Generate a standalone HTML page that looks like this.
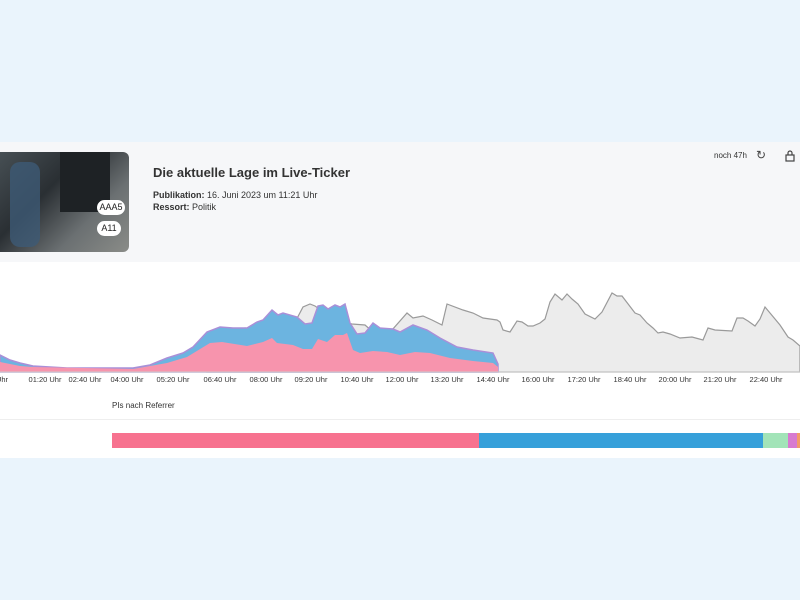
<!DOCTYPE html>
<html><head><meta charset="utf-8"><style>
body{margin:0;width:800px;height:600px;background:#eaf4fc;font-family:"Liberation Sans",sans-serif;position:relative;overflow:hidden}
.hdr{position:absolute;left:0;top:142px;width:800px;height:120px;background:#f6f7f9}
.main{position:absolute;left:0;top:262px;width:800px;height:196px;background:#fff}
.img{position:absolute;left:-10px;top:152px;width:139px;height:100px;border-radius:6px;background:linear-gradient(135deg,#4a5358 0%,#2a2f33 40%,#6b7072 70%,#8a8c88 100%)}
.badge{position:absolute;background:#fff;border-radius:8px;font-size:9px;color:#222;text-align:center;line-height:15px;height:15px}
.t{position:absolute;left:153px;top:165px;font-size:13px;font-weight:bold;color:#333}
.s{position:absolute;left:153px;font-size:9px;color:#333}
</style></head><body>
<div class="hdr"></div>
<div class="img">
<div style="position:absolute;left:20px;top:10px;width:30px;height:85px;background:#3d5a75;border-radius:10px;opacity:.8"></div>
<div style="position:absolute;left:70px;top:0;width:50px;height:60px;background:#1e2225"></div>
</div>
<div class="badge" style="left:97px;top:200px;width:28px">AAA5</div>
<div class="badge" style="left:97px;top:221px;width:24px">A11</div>
<div class="t">Die aktuelle Lage im Live-Ticker</div>
<div class="s" style="top:190px"><b>Publikation:</b> 16. Juni 2023 um 11:21 Uhr</div>
<div class="s" style="top:202px"><b>Ressort:</b> Politik</div>
<div style="position:absolute;left:714px;top:151px;font-size:8px;color:#333">noch 47h</div>
<div style="position:absolute;left:756px;top:148px;font-size:12px;color:#444">↻</div>
<svg style="position:absolute;left:785px;top:150px" width="10" height="12"><rect x="1" y="5" width="8" height="6" fill="none" stroke="#444" stroke-width="1.2"/><path d="M3 5V3a2 2 0 0 1 4 0v2" fill="none" stroke="#444" stroke-width="1.2"/></svg>
<div class="main"></div>
<svg style="position:absolute;left:0;top:0" width="800" height="600">
<polygon fill="#ececec" stroke="#9a9a9a" stroke-width="1.2" points="207,337 245,328 253,346 265,346 273,339 277,326 293,326 303,307 310,304 315,306 328,315 347,323 352,324 365,325 373,332 392,330 407,313 413,318 423,316 432,320 442,325 447,304 463,310 473,313 483,318 497,320 500,322 503,330 510,332 517,321 522,322 528,326 533,326 540,323 545,319 550,302 555,294 562,300 567,294 572,299 578,304 585,314 595,319 602,312 612,293 617,296 622,296 635,313 640,315 647,323 653,328 658,333 663,332 670,334 680,338 692,337 703,340 708,328 715,330 732,331 737,318 743,318 748,321 755,326 760,319 765,307 770,313 780,325 788,337 793,340 800,346 800,372 207,372"/>
<polygon fill="#6cb4e0" stroke="#a98fd8" stroke-width="1.5" points="0,355 10,360 20,363 33,366 67,368 133,368 150,365 167,358 183,353 193,347 207,332 220,327 233,328 247,328 257,322 263,320 272,310 278,315 283,313 297,317 305,324 312,323 318,306 323,305 328,309 335,305 340,307 345,304 350,323 357,334 365,333 373,323 380,328 393,329 400,332 413,325 427,330 440,338 457,347 473,350 493,353 498,364 498,372 0,372"/>
<polygon fill="#f794ad" points="0,362 20,366 33,367 133,369 167,363 187,357 210,343 222,342 247,346 263,342 272,338 277,343 293,345 303,349 312,349 318,339 327,342 335,335 343,335 347,333 353,350 360,353 373,351 387,352 400,355 415,352 430,353 450,358 473,361 493,363 498,367 498,372 0,372"/>
<line x1="0" y1="372" x2="800" y2="372" stroke="#ccc"/>
<g font-size="7.5" fill="#333" text-anchor="middle">
<text x="2" y="382">Uhr</text>
<text x="45" y="382">01:20 Uhr</text><text x="85" y="382">02:40 Uhr</text><text x="127" y="382">04:00 Uhr</text><text x="173" y="382">05:20 Uhr</text><text x="220" y="382">06:40 Uhr</text><text x="266" y="382">08:00 Uhr</text><text x="311" y="382">09:20 Uhr</text><text x="357" y="382">10:40 Uhr</text><text x="402" y="382">12:00 Uhr</text><text x="447" y="382">13:20 Uhr</text><text x="493" y="382">14:40 Uhr</text><text x="538" y="382">16:00 Uhr</text><text x="584" y="382">17:20 Uhr</text><text x="630" y="382">18:40 Uhr</text><text x="675" y="382">20:00 Uhr</text><text x="720" y="382">21:20 Uhr</text><text x="766" y="382">22:40 Uhr</text>
</g>
<text x="112" y="408" font-size="8" fill="#333">PIs nach Referrer</text>
<line x1="0" y1="419.5" x2="800" y2="419.5" stroke="#eee"/>
<rect x="112" y="433" width="367" height="15" fill="#f7728f"/>
<rect x="479" y="433" width="284" height="15" fill="#36a0da"/>
<rect x="763" y="433" width="25" height="15" fill="#a2e4b8"/>
<rect x="788" y="433" width="9" height="15" fill="#d77ad0"/>
<rect x="797" y="433" width="3" height="15" fill="#f39a6a"/>
</svg>
</body></html>
